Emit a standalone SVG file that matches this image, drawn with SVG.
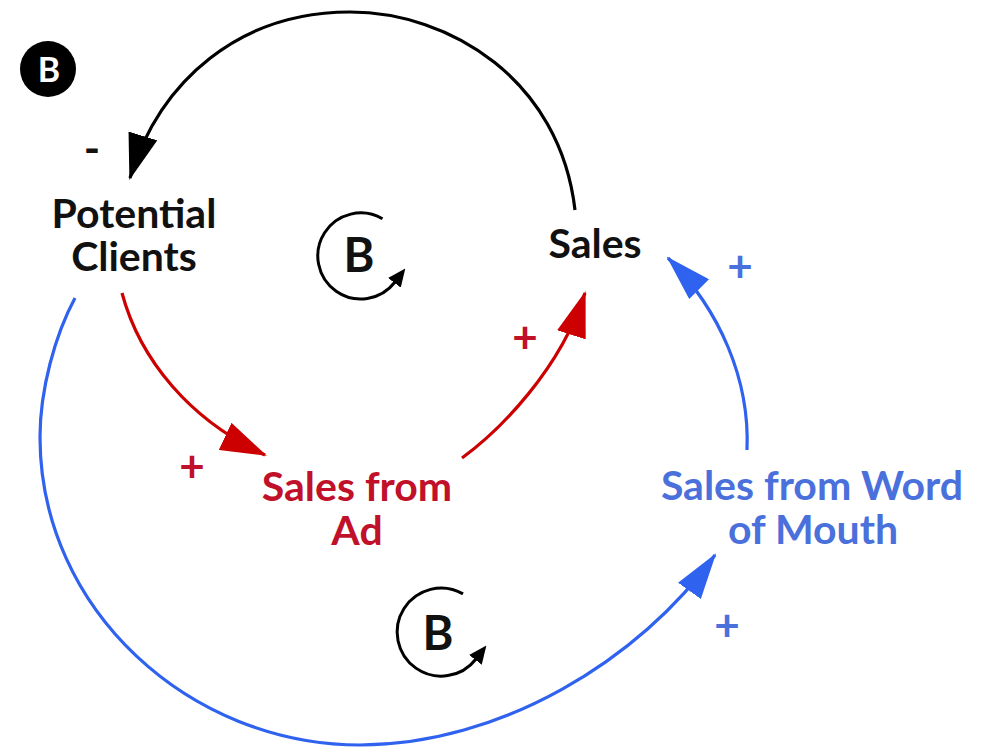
<svg xmlns="http://www.w3.org/2000/svg" width="999" height="748" viewBox="0 0 999 748">
  <style>
    .lbl { font-family: Lato, "Liberation Sans", sans-serif; font-weight: bold; font-size: 41px; text-anchor: middle; }
    .sign { font-family: Lato, "Liberation Sans", sans-serif; font-weight: bold; font-size: 44px; text-anchor: middle; }
    .loopB { font-family: Lato, "Liberation Sans", sans-serif; font-weight: bold; font-size: 47px; text-anchor: middle; fill: #111; }
    .blk { fill: #111; }
    .red { fill: #c0102a; }
    .blu { fill: #4a70dc; }
    .link { fill: none; stroke-width: 3.2; }
    .loop { fill: none; stroke: #000; stroke-width: 3; }
  </style>
  <defs>
    <marker id="ah-black" markerUnits="userSpaceOnUse" markerWidth="46" markerHeight="30" refX="44" refY="15" orient="auto">
      <path d="M0,0 L46,15 L0,30 Z" fill="#000"/>
    </marker>
    <marker id="ah-red" markerUnits="userSpaceOnUse" markerWidth="46" markerHeight="30" refX="44" refY="15" orient="auto">
      <path d="M0,0 L46,15 L0,30 Z" fill="#cc0000"/>
    </marker>
    <marker id="ah-blue" markerUnits="userSpaceOnUse" markerWidth="46" markerHeight="28" refX="44" refY="14" orient="auto">
      <path d="M0,0 L46,14 L0,28 Z" fill="#2f62ee"/>
    </marker>
    <marker id="ah-loop" markerUnits="userSpaceOnUse" markerWidth="18" markerHeight="16" refX="1" refY="8" orient="auto">
      <path d="M0,0 L18,8 L0,16 Z" fill="#000"/>
    </marker>
  </defs>

  <g id="connectors">
    <path id="sales-to-potential" class="link" stroke="#000" d="M575,210 C560,80 450,12 350,12 C240,12 160,80 130,178" marker-end="url(#ah-black)"/>
    <path id="potential-to-ad" class="link" stroke="#cc0000" d="M122,293 C140,360 190,420 265,455" marker-end="url(#ah-red)"/>
    <path id="ad-to-sales" class="link" stroke="#cc0000" d="M462,458 C500,430 560,370 585,293" marker-end="url(#ah-red)"/>
    <path id="potential-to-wom" class="link" stroke="#2f62ee" d="M75,298 C55,335 40,390 40,437 C40,610 190,745 360,745 C500,745 640,660 715,555" marker-end="url(#ah-blue)"/>
    <path id="wom-to-sales" class="link" stroke="#2f62ee" d="M747,450 C750,380 720,310 668,258" marker-end="url(#ah-blue)"/>
  </g>

  <g id="polarities">
    <text class="sign blk" x="92" y="164">-</text>
    <text class="sign red" x="192" y="482">+</text>
    <text class="sign red" x="525" y="353">+</text>
    <text class="sign blu" x="740" y="282">+</text>
    <text class="sign blu" x="727" y="641">+</text>
  </g>

  <g id="badge-B">
    <circle cx="48" cy="69" r="28" fill="#000"/>
    <text x="49" y="82" font-family="Lato, 'Liberation Sans', sans-serif" font-weight="bold" font-size="34" text-anchor="middle" fill="#fff">B</text>
  </g>

  <g id="node-potential-clients">
    <text class="lbl blk" x="134" y="228">Potential</text>
    <text class="lbl blk" x="134" y="271">Clients</text>
  </g>

  <g id="node-sales">
    <text class="lbl blk" x="595" y="258">Sales</text>
  </g>

  <g id="node-sales-from-ad">
    <text class="lbl red" x="357" y="501">Sales from</text>
    <text class="lbl red" x="357" y="545">Ad</text>
  </g>

  <g id="node-sales-from-wom">
    <text class="lbl blu" x="812" y="500">Sales from Word</text>
    <text class="lbl blu" x="813" y="544">of Mouth</text>
  </g>

  <g id="loop-1">
    <path class="loop" d="M382.5,218.8 A43,43 0 1 0 395,282" marker-end="url(#ah-loop)"/>
    <text class="loopB" x="359" y="272">B</text>
  </g>

  <g id="loop-2">
    <path class="loop" d="M463,593.9 A44,44 0 1 0 476,659" marker-end="url(#ah-loop)"/>
    <text class="loopB" x="438" y="650">B</text>
  </g>
</svg>
